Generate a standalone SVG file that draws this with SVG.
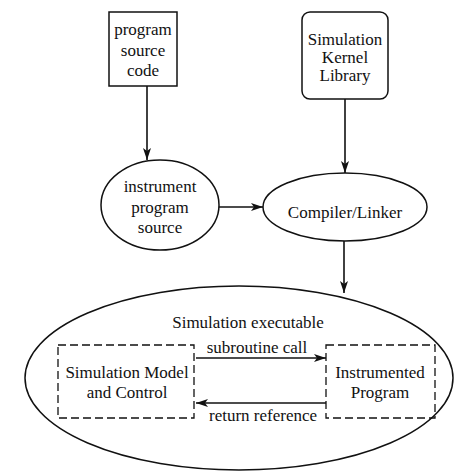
<svg xmlns="http://www.w3.org/2000/svg" width="456" height="473" viewBox="0 0 456 473">
<style>
text{font-family:"Liberation Serif","Times New Roman",serif;font-size:17px;fill:#111;text-anchor:middle}
.s{fill:#fff;stroke:#111;stroke-width:1.5}
.d{fill:none;stroke:#111;stroke-width:1.3;stroke-dasharray:8 4}
.c{fill:none;stroke:#111;stroke-width:1.6}
</style>
<defs>
<marker id="a" viewBox="0 0 12 8" refX="12" refY="4" markerWidth="12" markerHeight="8" markerUnits="userSpaceOnUse" orient="auto">
<path d="M0,0 L12,4 L0,8 L3,4 Z" fill="#111"/>
</marker>
</defs>
<rect width="456" height="473" fill="#fff"/>
<g id="sim-exec">
<ellipse class="s" cx="239" cy="378" rx="214" ry="92"/>
<text x="248" y="328">Simulation executable</text>
</g>
<g id="source">
<rect class="s" x="109" y="12" width="68" height="74"/>
<text x="143" y="35">program</text>
<text x="143" y="56">source</text>
<text x="143" y="76">code</text>
</g>
<g id="kernel">
<rect class="s" x="302" y="12" width="86" height="87" rx="8"/>
<text x="345" y="45">Simulation</text>
<text x="345" y="63">Kernel</text>
<text x="345" y="81">Library</text>
</g>
<g id="instrument">
<ellipse class="s" cx="160" cy="205" rx="59" ry="45"/>
<text x="160" y="192">instrument</text>
<text x="160" y="213">program</text>
<text x="160" y="233">source</text>
</g>
<g id="compiler">
<ellipse class="s" cx="345" cy="207" rx="82" ry="34"/>
<text x="345" y="218">Compiler/Linker</text>
</g>
<g id="model">
<rect class="d" x="58" y="345" width="136" height="73"/>
<text x="127" y="378">Simulation Model</text>
<text x="127" y="398">and Control</text>
</g>
<g id="instrumented">
<rect class="d" x="326" y="345" width="109" height="73"/>
<text x="380" y="378">Instrumented</text>
<text x="380" y="398">Program</text>
</g>
<g id="connectors">
<line class="c" x1="147" y1="86" x2="147" y2="160" marker-end="url(#a)"/>
<line class="c" x1="345" y1="99" x2="345" y2="173" marker-end="url(#a)"/>
<line class="c" x1="219" y1="207" x2="263" y2="207" marker-end="url(#a)"/>
<line class="c" x1="344" y1="241" x2="344" y2="293" marker-end="url(#a)"/>
<line class="c" x1="196" y1="358" x2="326" y2="358" marker-end="url(#a)"/>
<line class="c" x1="326" y1="403" x2="196" y2="403" marker-end="url(#a)"/>
<text x="257" y="353">subroutine call</text>
<text x="263" y="421">return reference</text>
</g>
</svg>
